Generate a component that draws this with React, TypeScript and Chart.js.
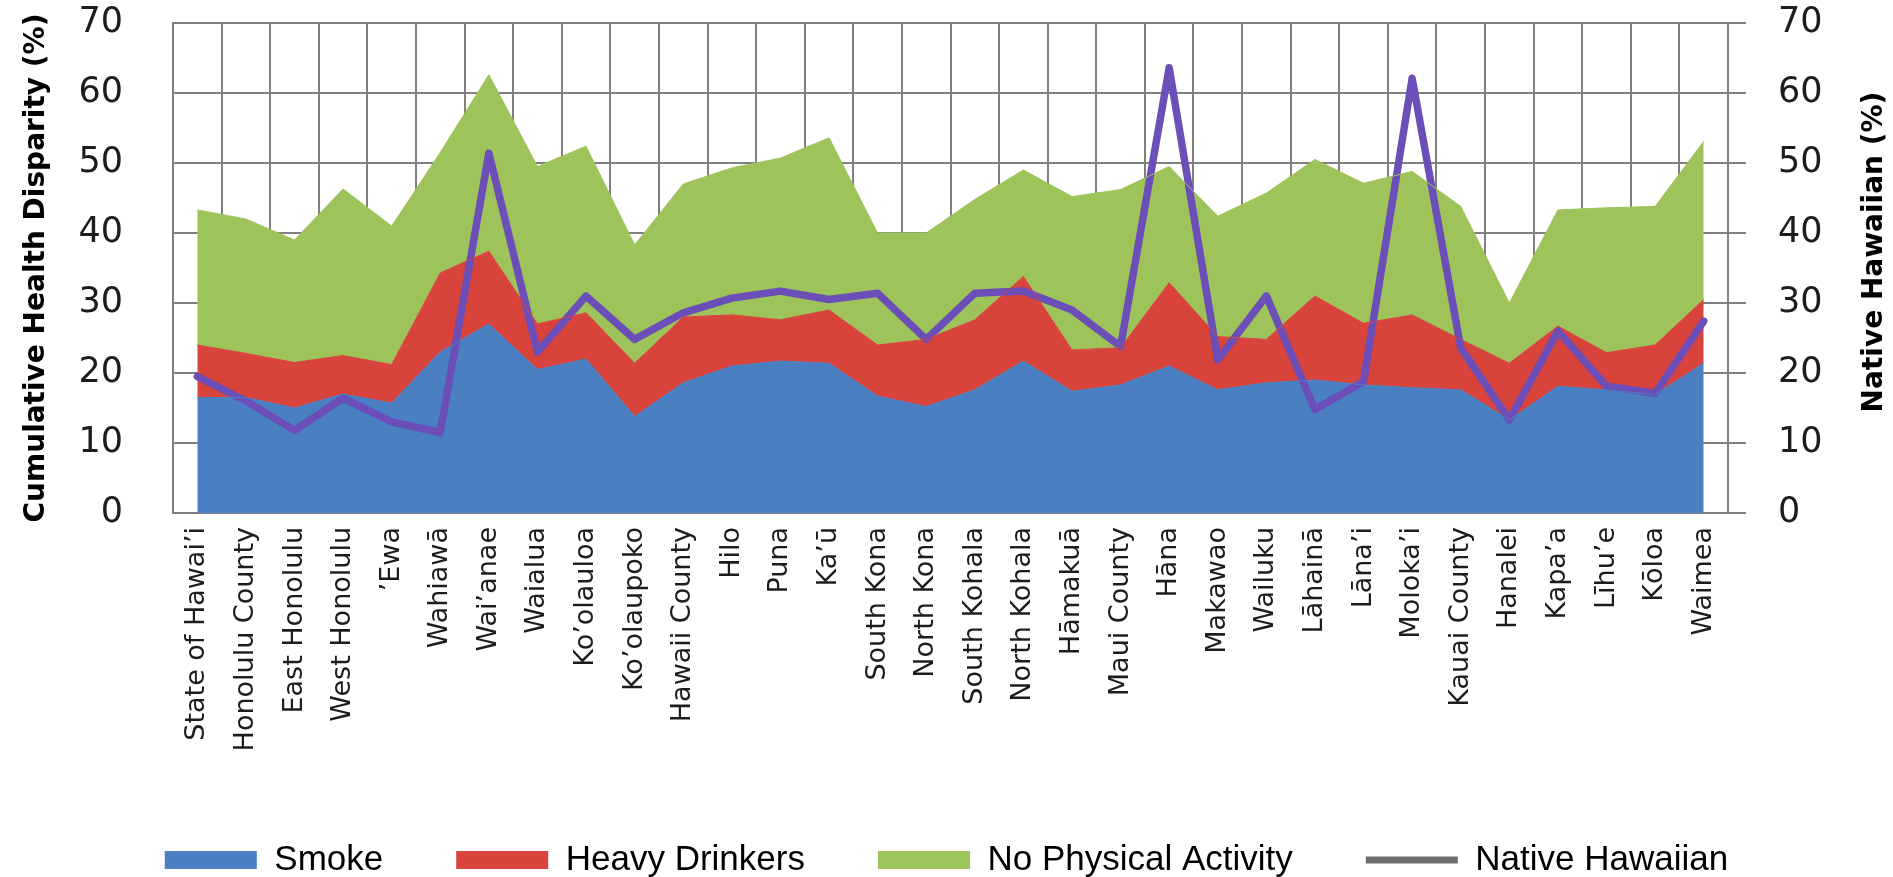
import React, { useEffect, useRef } from 'react';
import { Chart, registerables } from 'chart.js';

Chart.register(...registerables);

const categories = [
  'State of Hawai’i', 'Honolulu County', 'East Honolulu', 'West Honolulu', '’Ewa', 'Wahiawā',
  'Wai’anae', 'Waialua', 'Ko’olauloa', 'Ko’olaupoko', 'Hawaii County', 'Hilo', 'Puna', 'Ka’ū',
  'South Kona', 'North Kona', 'South Kohala', 'North Kohala', 'Hāmakuā', 'Maui County', 'Hāna',
  'Makawao', 'Wailuku', 'Lāhainā', 'Lāna’i', 'Moloka’i', 'Kauai County', 'Hanalei', 'Kapa’a',
  'Līhu’e', 'Kōloa', 'Waimea',
];

const smoke = [
  16.5, 16.5, 15, 17, 15.7, 23, 27, 20.5, 22, 13.8, 18.6, 21, 21.7, 21.4, 16.7, 15.2,
  17.6, 21.7, 17.4, 18.3, 21, 17.6, 18.6, 19, 18.3, 17.9, 17.6, 13.3, 18.1, 17.6, 16.9, 21.4,
];

const heavyDrinkers = [
  7.5, 6.3, 6.5, 5.5, 5.5, 11.3, 10.4, 6.5, 6.6, 7.6, 9.4, 7.3, 5.9, 7.6, 7.3, 9.6,
  10, 12.1, 5.9, 5.3, 11.9, 7.6, 6.2, 12, 8.8, 10.4, 7.2, 8.1, 8.6, 5.3, 7.1, 9.1,
];

const noPhysicalActivity = [
  19.3, 19.2, 17.5, 23.8, 19.8, 17.2, 25.2, 22.5, 23.8, 16.9, 19, 21, 23.1, 24.6, 16, 15.2,
  17.2, 15.2, 21.9, 22.6, 16.6, 17.2, 20.9, 19.5, 20, 20.5, 19, 8.6, 16.6, 20.7, 19.8, 22.6,
];

const nativeHawaiian = [
  19.5, 16, 11.8, 16.4, 13, 11.5, 51.4, 23, 31, 24.8, 28.6, 30.7, 31.7, 30.5, 31.4, 24.8,
  31.4, 31.7, 29, 23.8, 63.6, 21.9, 31, 14.8, 18.8, 62.1, 23.6, 13.3, 26, 18.1, 17.1, 27.4,
];

const seriesNames = ['Smoke', 'Heavy Drinkers', 'No Physical Activity', 'Native Hawaiian'];
const leftAxisTitle = 'Cumulative Health Disparity (%)';
const rightAxisTitle = 'Native Hawaiian (%)';
const axisMin = 0;
const axisMax = 70;
const axisStep = 10;

const W = 1893;
const H = 877;

export default function App() {
  const ref = useRef<HTMLCanvasElement>(null);

  useEffect(() => {
    const canvas = ref.current;
    if (!canvas) return;
    const gridColor = '#808080';
    const textColor = '#1c1c1c';
    const blue = '#4a7fc1';
    const red = '#d8433c';
    const green = '#9dc35a';
    const purple = '#6b4eb8';

    const rightTitlePlugin = {
      id: 'rightTitle',
      afterDraw(chart: any) {
        const { ctx, chartArea } = chart;
        const s = chart.scales.y1;
        ctx.save();
        ctx.font = 'bold 28px "DejaVu Sans"';
        ctx.fillStyle = '#000';
        ctx.textAlign = 'center';
        ctx.textBaseline = 'middle';
        ctx.translate(s.right - 18, (chartArea.top + chartArea.bottom) / 2 - 16);
        ctx.rotate(-Math.PI / 2);
        ctx.fillText(rightAxisTitle, 0, 0);
        ctx.restore();
      },
    };

    const chart = new Chart(canvas, {
      type: 'line',
      data: {
        labels: categories,
        datasets: [
          {
            label: seriesNames[0], data: smoke, yAxisID: 'y', fill: 'origin',
            backgroundColor: blue, borderColor: blue, borderWidth: 1, pointRadius: 0, tension: 0,
          },
          {
            label: seriesNames[1], data: heavyDrinkers, yAxisID: 'y', fill: '-1',
            backgroundColor: red, borderColor: red, borderWidth: 1, pointRadius: 0, tension: 0,
          },
          {
            label: seriesNames[2], data: noPhysicalActivity, yAxisID: 'y', fill: '-1',
            backgroundColor: green, borderColor: green, borderWidth: 1, pointRadius: 0, tension: 0,
          },
          {
            label: seriesNames[3], data: nativeHawaiian, yAxisID: 'y1', fill: false,
            backgroundColor: purple, borderColor: purple, borderWidth: 7.5, pointRadius: 0,
            borderJoinStyle: 'round', borderCapStyle: 'round', tension: 0,
          },
        ],
      },
      options: {
        animation: false,
        responsive: false,
        maintainAspectRatio: false,
        font: { family: '"DejaVu Sans"' },
        layout: { padding: { top: 23, left: 0, right: 0, bottom: -10.5 } },
        plugins: {
          filler: { drawTime: 'beforeDatasetsDraw' },
          tooltip: { enabled: false },
          legend: {
            position: 'bottom',
            labels: {
              usePointStyle: true,
              pointStyleWidth: 92,
              boxHeight: 18,
              padding: 73,
              color: '#000',
              font: { size: 35, family: '"Liberation Sans", Arial, sans-serif' },
              generateLabels: (c: any) => {
                const items = Chart.defaults.plugins.legend.labels.generateLabels(c);
                return items.map((it: any, i: number) =>
                  i === 3
                    ? { ...it, pointStyle: 'line', strokeStyle: '#6e6e6e', fillStyle: '#6e6e6e', lineWidth: 7 }
                    : { ...it, pointStyle: 'rect', lineWidth: 0 }
                );
              },
            },
          },
        },
        scales: {
          x: {
            offset: true,
            grid: { offset: true, color: gridColor, lineWidth: 2, drawTicks: false },
            border: { color: gridColor, width: 2 },
            ticks: {
              autoSkip: false, minRotation: 90, maxRotation: 90, padding: 14, color: textColor,
              font: { size: 27, family: '"DejaVu Sans"' },
            },
            afterFit: (s: any) => { s.height = 256.5; },
          },
          y: {
            stacked: true,
            min: axisMin, max: axisMax,
            grid: { color: gridColor, lineWidth: 2, drawTicks: true, tickLength: 50, tickColor: 'rgba(0,0,0,0)' },
            border: { color: gridColor, width: 2 },
            ticks: { stepSize: axisStep, padding: 0, color: textColor, font: { size: 35, family: '"DejaVu Sans"' } },
            title: {
              display: true, text: leftAxisTitle, color: '#000',
              font: { size: 28, weight: 'bold', family: '"DejaVu Sans"' },
              padding: { top: 20, bottom: 0 },
            },
            afterFit: (s: any) => { s.width = 173; },
          },
          y1: {
            position: 'right',
            min: axisMin, max: axisMax,
            grid: {
              drawOnChartArea: false, drawTicks: true, tickLength: 50, tickBorderDash: [17, 80],
              color: gridColor, tickColor: gridColor, lineWidth: 2,
            },
            border: { color: gridColor, width: 2 },
            ticks: { stepSize: axisStep, padding: 0, color: textColor, font: { size: 35, family: '"DejaVu Sans"' } },
            afterFit: (s: any) => { s.width = W - 1728; },
          },
        },
      },
      plugins: [rightTitlePlugin],
    } as any);

    return () => chart.destroy();
  }, []);

  return (
    <div style={{ position: 'fixed', left: 0, top: 0, width: W, height: H, background: '#fff' }}>
      <canvas ref={ref} width={W} height={H} style={{ width: W, height: H, display: 'block' }} />
    </div>
  );
}
